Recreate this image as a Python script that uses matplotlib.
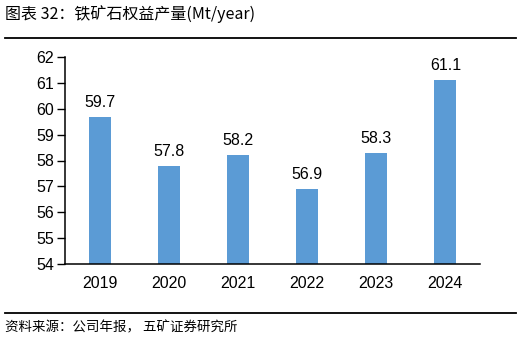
import matplotlib.pyplot as plt
import numpy as np
from matplotlib.lines import Line2D

plt.rcParams['font.family'] = ['Liberation Sans', 'Noto Sans CJK SC', 'DejaVu Sans']

# 铁矿石权益产量
years = ["2019", "2020", "2021", "2022", "2023", "2024"]
output = [59.7, 57.8, 58.2, 56.9, 58.3, 61.1]

fig = plt.figure(figsize=(5.22, 3.40), dpi=100)
ax = fig.add_axes([65 / 522, 1 - 264 / 340, 415 / 522, 207 / 340])

x = np.arange(len(years))
bars = ax.bar(x, output, width=0.32, color='#5B9BD5', bottom=0)
ax.set_ylim(54, 62)
ax.set_xlim(-0.5, len(years) - 0.5)
ax.set_yticks(range(54, 63))
ax.set_xticks(x)
ax.set_xticklabels(years)
ax.tick_params(axis='x', length=0, pad=9, labelsize=11.5)
ax.tick_params(axis='y', length=6, width=1, pad=2, labelsize=11.5, direction='out')

for s in ['top', 'right']:
    ax.spines[s].set_visible(False)
for s in ['left', 'bottom']:
    ax.spines[s].set_linewidth(1.1)

for xi, v in zip(x, output):
    ax.annotate(f'{v:.1f}', (xi, v), xytext=(0, 5), textcoords='offset points',
                ha='center', va='bottom', fontsize=11.5)

# 标题与来源
fig.text(5 / 522, 1 - 14 / 340, '图表 32：铁矿石权益产量(Mt/year)', fontsize=11.5,
         ha='left', va='center', family=['Noto Sans CJK SC', 'Liberation Sans'])
fig.add_artist(Line2D([5 / 522, 516 / 522], [1 - 38 / 340] * 2, color='black', lw=1.3))
fig.add_artist(Line2D([5 / 522, 516 / 522], [1 - 313 / 340] * 2, color='black', lw=1.3))
fig.text(5 / 522, 1 - 327 / 340, '资料来源：公司年报， 五矿证券研究所', fontsize=9.7,
         ha='left', va='center', family=['Noto Sans CJK SC', 'Liberation Sans'])

plt.savefig('out.png', dpi=100)
